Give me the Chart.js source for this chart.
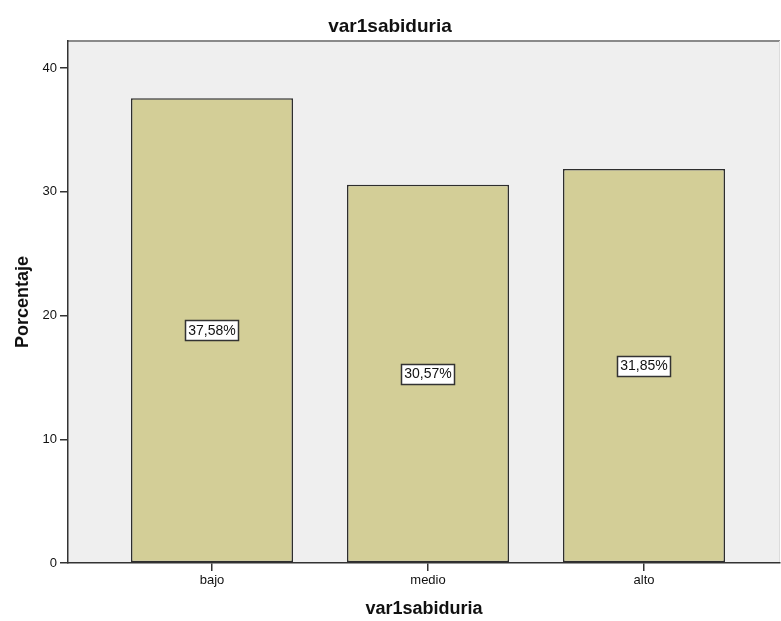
<!DOCTYPE html>
<html>
<head>
<meta charset="utf-8">
<script src="https://cdn.jsdelivr.net/npm/chart.js@4/dist/chart.umd.min.js"></script>
<style>
  html, body { margin: 0; padding: 0; background: #ffffff; }
  #wrap { width: 781px; height: 621px; }
</style>
</head>
<body>
<div id="wrap"><canvas id="c" width="781" height="621"></canvas></div>
<script>
const chartTitle = "var1sabiduria";
const xTitle = "var1sabiduria";
const yTitle = "Porcentaje";
const categories = ["bajo", "medio", "alto"];
const percentages = [37.58, 30.57, 31.85];
const yTicks = [0, 10, 20, 30, 40];

const FONT = "'Liberation Sans', Arial, sans-serif";

const plotBg = {
  id: 'plotBg',
  beforeDraw(chart) {
    const {ctx, chartArea: a} = chart;
    ctx.save();
    ctx.fillStyle = '#efefef';
    ctx.fillRect(a.left, a.top, a.right - a.left, a.bottom - a.top);
    ctx.strokeStyle = '#8a8a8a';
    ctx.lineWidth = 2;
    ctx.beginPath();
    ctx.moveTo(a.left, a.top);
    ctx.lineTo(a.right, a.top);
    ctx.stroke();
    ctx.strokeStyle = '#dcdcdc';
    ctx.lineWidth = 1;
    ctx.beginPath();
    ctx.moveTo(a.right - 0.5, a.top);
    ctx.lineTo(a.right - 0.5, a.bottom);
    ctx.stroke();
    ctx.restore();
  }
};

const valueLabels = {
  id: 'valueLabels',
  afterDatasetsDraw(chart) {
    const {ctx} = chart;
    const meta = chart.getDatasetMeta(0);
    ctx.save();
    ctx.font = "14px " + FONT;
    ctx.textAlign = 'center';
    ctx.textBaseline = 'middle';
    meta.data.forEach((bar, i) => {
      const txt = percentages[i].toFixed(2).replace('.', ',') + '%';
      const cx = bar.x;
      const cy = (bar.y + bar.base) / 2;
      const w = ctx.measureText(txt).width + 6;
      const h = 20;
      const x0 = Math.round(cx - w / 2) + 0.5;
      const y0 = Math.round(cy - h / 2) + 0.5;
      ctx.fillStyle = '#ffffff';
      ctx.fillRect(x0, y0, Math.round(w), h);
      ctx.strokeStyle = '#333333';
      ctx.lineWidth = 1.5;
      ctx.strokeRect(x0, y0, Math.round(w), h);
      ctx.fillStyle = '#111111';
      ctx.fillText(txt, cx, cy + 1);
    });
    ctx.restore();
  }
};

new Chart(document.getElementById('c'), {
  type: 'bar',
  data: {
    datasets: [{
      data: categories.map((c, i) => ({x: i + 1, y: percentages[i]})),
      backgroundColor: '#d3ce97',
      borderColor: '#2e2e2e',
      borderWidth: 1.5,
      borderSkipped: false,
      barPercentage: 0.75,
      categoryPercentage: 1.0
    }]
  },
  options: {
    responsive: false,
    animation: false,
    devicePixelRatio: 1,
    layout: { padding: { left: 0, right: 1, top: 0, bottom: 0 } },
    plugins: {
      legend: { display: false },
      tooltip: { enabled: false },
      title: {
        display: true,
        text: chartTitle,
        color: '#111111',
        font: { family: FONT, size: 19, weight: 'bold', lineHeight: 1.2 },
        padding: { top: 15, bottom: 3.2 }
      }
    },
    scales: {
      x: {
        type: 'linear',
        offset: false,
        min: 0.3333,
        max: 3.6296,
        afterBuildTicks(scale) {
          scale.ticks = categories.map((c, i) => ({ value: i + 1 }));
        },
        afterFit(scale) { scale.height = 58; },
        ticks: {
          callback: (v) => categories[Math.round(v) - 1] || '',
          color: '#111111',
          font: { family: FONT, size: 13 },
          padding: 2,
          maxRotation: 0,
          autoSkip: false
        },
        grid: {
          display: true,
          offset: false,
          drawOnChartArea: false,
          drawTicks: true,
          tickLength: 8,
          color: '#333333',
          lineWidth: 1.5
        },
        border: { display: true, color: '#333333', width: 1.5 },
        title: {
          display: true,
          text: xTitle,
          color: '#111111',
          font: { family: FONT, size: 18, weight: 'bold', lineHeight: 1.2 },
          padding: { top: 0, bottom: 1 }
        }
      },
      y: {
        min: 0,
        max: 42.2,
        afterBuildTicks(scale) {
          scale.ticks = yTicks.map(v => ({ value: v }));
        },
        afterFit(scale) { scale.width = 68; },
        ticks: {
          color: '#111111',
          font: { family: FONT, size: 13 },
          padding: 3
        },
        grid: {
          display: true,
          drawOnChartArea: false,
          drawTicks: true,
          tickLength: 8,
          color: '#333333',
          lineWidth: 1.5
        },
        border: { display: true, color: '#333333', width: 1.5 },
        title: {
          display: true,
          text: yTitle,
          color: '#111111',
          font: { family: FONT, size: 18, weight: 'bold', lineHeight: 1.2 },
          padding: { top: 12, bottom: 0 }
        }
      }
    }
  },
  plugins: [plotBg, valueLabels]
});
</script>
</body>
</html>
